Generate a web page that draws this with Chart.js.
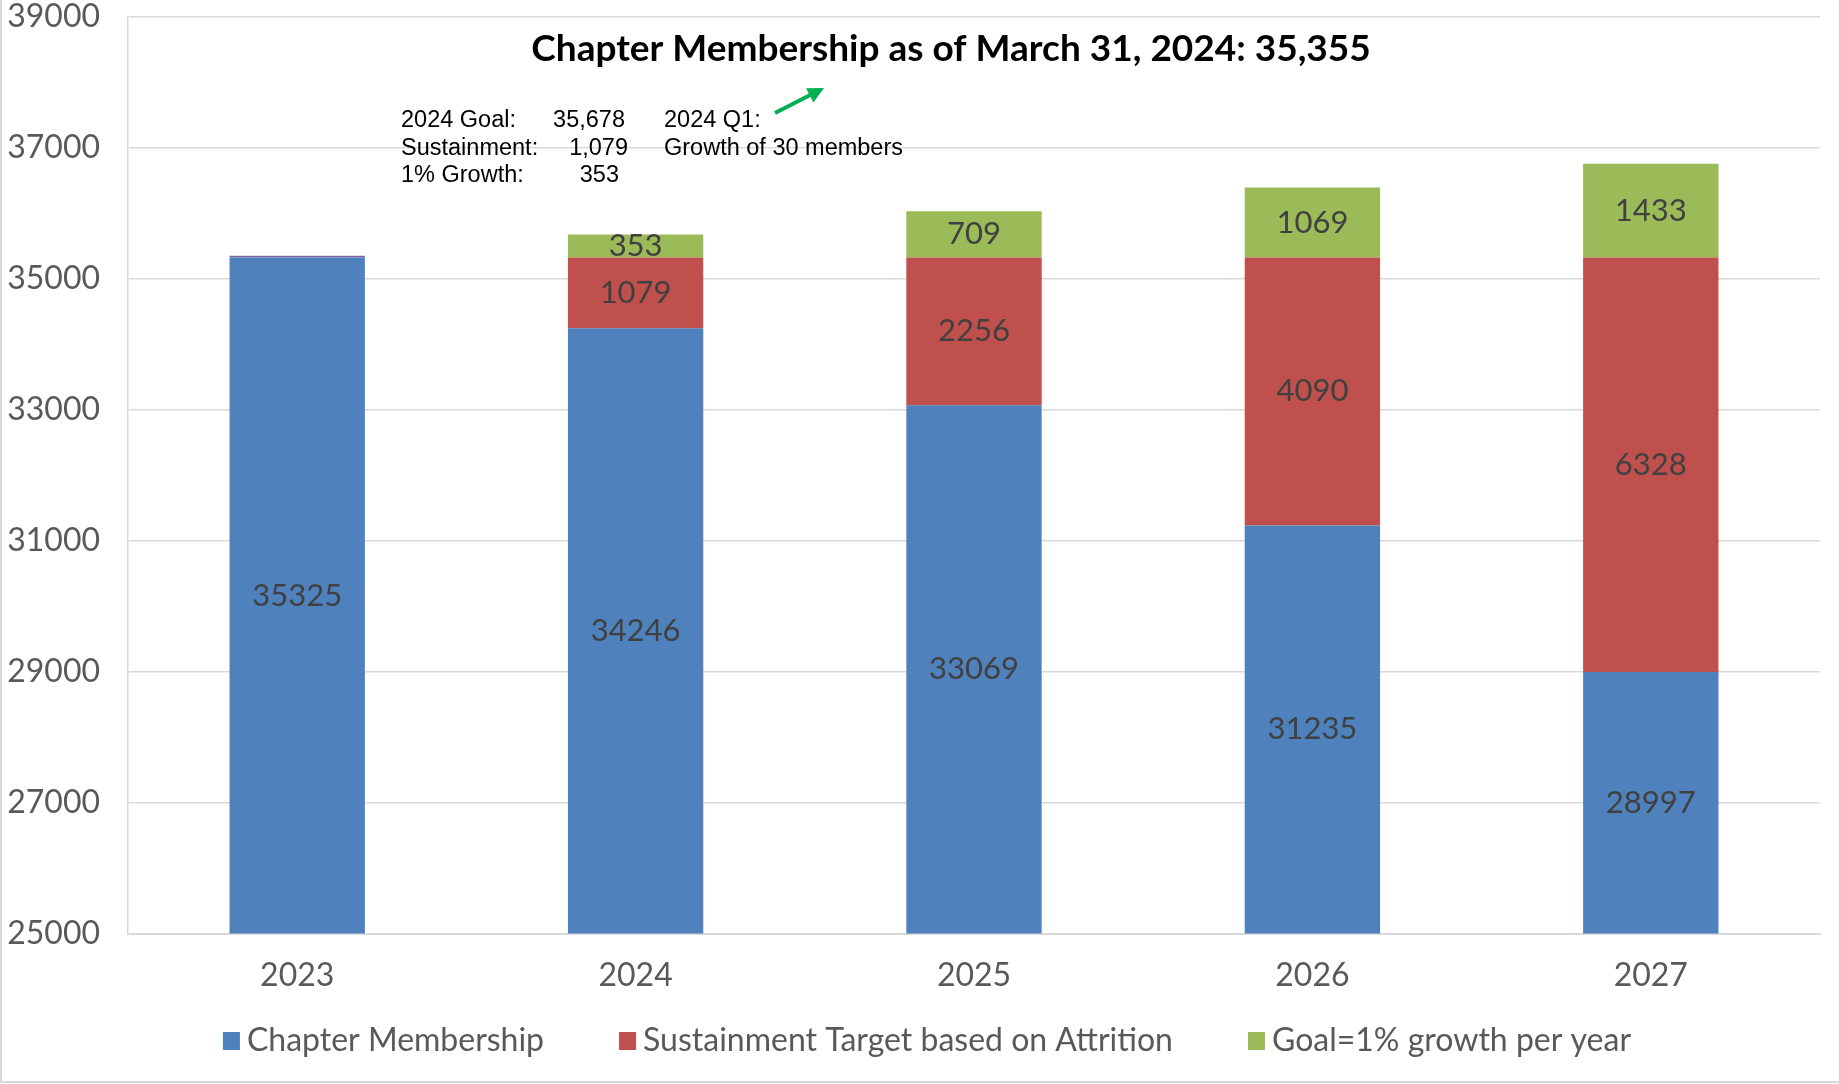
<!DOCTYPE html>
<html>
<head>
<meta charset="utf-8">
<script src="https://cdn.jsdelivr.net/npm/chart.js@4.4.1/dist/chart.umd.min.js"></script>
<style>
  html, body { margin: 0; padding: 0; background: #fff; }
  #wrap { width: 1839px; height: 1084px; position: relative; }
</style>
</head>
<body>
<div id="wrap"><canvas id="chart" width="1839" height="1084"></canvas></div>
<script>
const years = ['2023', '2024', '2025', '2026', '2027'];
const membership = [35325, 34246, 33069, 31235, 28997];
const sustainment = [0, 1079, 2256, 4090, 6328];
const growthGoal = [0, 353, 709, 1069, 1433];
const q1Growth = [30, 0, 0, 0, 0];
const yTicks = [25000, 27000, 29000, 31000, 33000, 35000, 37000, 39000];

const titleText = 'Chapter Membership as of March 31, 2024: 35,355';
const noteRows = [
  ['2024 Goal:', '35,678', '2024 Q1:'],
  ['Sustainment:', '1,079', 'Growth of 30 members'],
  ['1% Growth:', '353', '']
];
const noteNumRight = [625, 628, 619];

const textGrey = '#595959';

// values written in the middle of each segment
const segmentLabels = {
  id: 'segmentLabels',
  afterDatasetsDraw(chart) {
    const ctx = chart.ctx;
    const bottom = chart.chartArea.bottom;
    ctx.save();
    ctx.font = '31px Lato';
    ctx.fillStyle = '#404040';
    ctx.textAlign = 'center';
    ctx.textBaseline = 'middle';
    chart.data.datasets.forEach((ds, i) => {
      if (ds.noLabel) return;
      chart.getDatasetMeta(i).data.forEach((bar, j) => {
        const v = ds.data[j];
        if (!v) return;
        const base = Math.min(bar.base, bottom);
        ctx.fillText(String(v), bar.x, (bar.y + base) / 2);
      });
    });
    ctx.restore();
  }
};

// legend drawn by hand so the spacing can follow the original
const bottomLegend = {
  id: 'bottomLegend',
  afterDraw(chart) {
    const ctx = chart.ctx;
    const items = chart.data.datasets.filter(d => !d.noLabel);
    ctx.save();
    ctx.font = '32px Lato';
    const box = 17, gap = 7, spacing = 75;
    const widths = items.map(d => box + gap + ctx.measureText(d.label).width);
    const total = widths.reduce((a, b) => a + b, 0) + spacing * (items.length - 1);
    let x = 927 - total / 2;
    const y = 1041;
    ctx.textBaseline = 'middle';
    ctx.textAlign = 'left';
    items.forEach((d, i) => {
      ctx.fillStyle = d.backgroundColor;
      ctx.fillRect(x, y - 9, box, 18);
      ctx.fillStyle = textGrey;
      ctx.fillText(d.label, x + box + gap, y);
      x += widths[i] + spacing;
    });
    ctx.restore();
  }
};

// title, side note, arrow and outer frame
const extras = {
  id: 'extras',
  afterDraw(chart) {
    const ctx = chart.ctx;
    ctx.save();
    ctx.fillStyle = '#000';
    ctx.font = 'bold 37px Lato';
    ctx.textAlign = 'center';
    ctx.textBaseline = 'middle';
    ctx.fillText(titleText, 951, 49);

    ctx.font = '23.5px "Liberation Sans", Arial';
    ctx.textBaseline = 'alphabetic';
    noteRows.forEach((r, i) => {
      const y = 127 + i * 27.5;
      ctx.textAlign = 'left';
      ctx.fillText(r[0], 401, y);
      ctx.textAlign = 'right';
      ctx.fillText(r[1], noteNumRight[i], y);
      ctx.textAlign = 'left';
      ctx.fillText(r[2], 664, y);
    });

    // green arrow
    ctx.strokeStyle = '#00B050';
    ctx.fillStyle = '#00B050';
    ctx.lineWidth = 4;
    const x0 = 775, y0 = 113, x1 = 824, y1 = 88;
    const a = Math.atan2(y1 - y0, x1 - x0);
    ctx.beginPath();
    ctx.moveTo(x0, y0);
    ctx.lineTo(x1 - 10 * Math.cos(a), y1 - 10 * Math.sin(a));
    ctx.stroke();
    ctx.beginPath();
    ctx.moveTo(x1, y1);
    ctx.lineTo(x1 - 16 * Math.cos(a) + 8 * Math.sin(a), y1 - 16 * Math.sin(a) - 8 * Math.cos(a));
    ctx.lineTo(x1 - 16 * Math.cos(a) - 8 * Math.sin(a), y1 - 16 * Math.sin(a) + 8 * Math.cos(a));
    ctx.closePath();
    ctx.fill();

    ctx.strokeStyle = '#D9D9D9';
    ctx.lineWidth = 2;
    ctx.beginPath();
    ctx.moveTo(1, 0);
    ctx.lineTo(1, 1082);
    ctx.lineTo(1839, 1082);
    ctx.stroke();
    ctx.restore();
  }
};

new Chart(document.getElementById('chart'), {
  type: 'bar',
  data: {
    labels: years,
    datasets: [
      { label: 'Chapter Membership', data: membership, backgroundColor: '#4F81BD' },
      { label: 'Sustainment Target based on Attrition', data: sustainment, backgroundColor: '#C0504D' },
      { label: 'Goal=1% growth per year', data: growthGoal, backgroundColor: '#9BBB59' },
      { label: 'Q1', data: q1Growth, backgroundColor: '#8064A2', noLabel: true }
    ]
  },
  options: {
    responsive: false,
    animation: false,
    layout: { padding: { top: 17, right: 19, left: 0, bottom: 74 } },
    datasets: { bar: { barPercentage: 0.4, categoryPercentage: 1 } },
    plugins: {
      title: { display: false },
      tooltip: { enabled: false },
      legend: { display: false }
    },
    scales: {
      x: {
        stacked: true,
        grid: { display: false },
        border: { display: true, color: '#D9D9D9', width: 2 },
        ticks: { color: textGrey, font: { family: 'Lato', size: 32 }, padding: 15 }
      },
      y: {
        stacked: true,
        min: 25000,
        max: 39000,
        afterFit(scale) {
          scale.width = 128;
          scale.paddingTop = 0;
          scale.paddingBottom = 0;
        },
        afterBuildTicks(scale) { scale.ticks = yTicks.map(v => ({ value: v })); },
        grid: { color: '#D9D9D9', lineWidth: 1.5, drawTicks: false },
        border: { display: true, color: '#D9D9D9', width: 1.5 },
        ticks: {
          color: textGrey,
          font: { family: 'Lato', size: 32 },
          padding: 28,
          callback: v => String(v)
        }
      }
    }
  },
  plugins: [segmentLabels, bottomLegend, extras]
});
</script>
</body>
</html>
